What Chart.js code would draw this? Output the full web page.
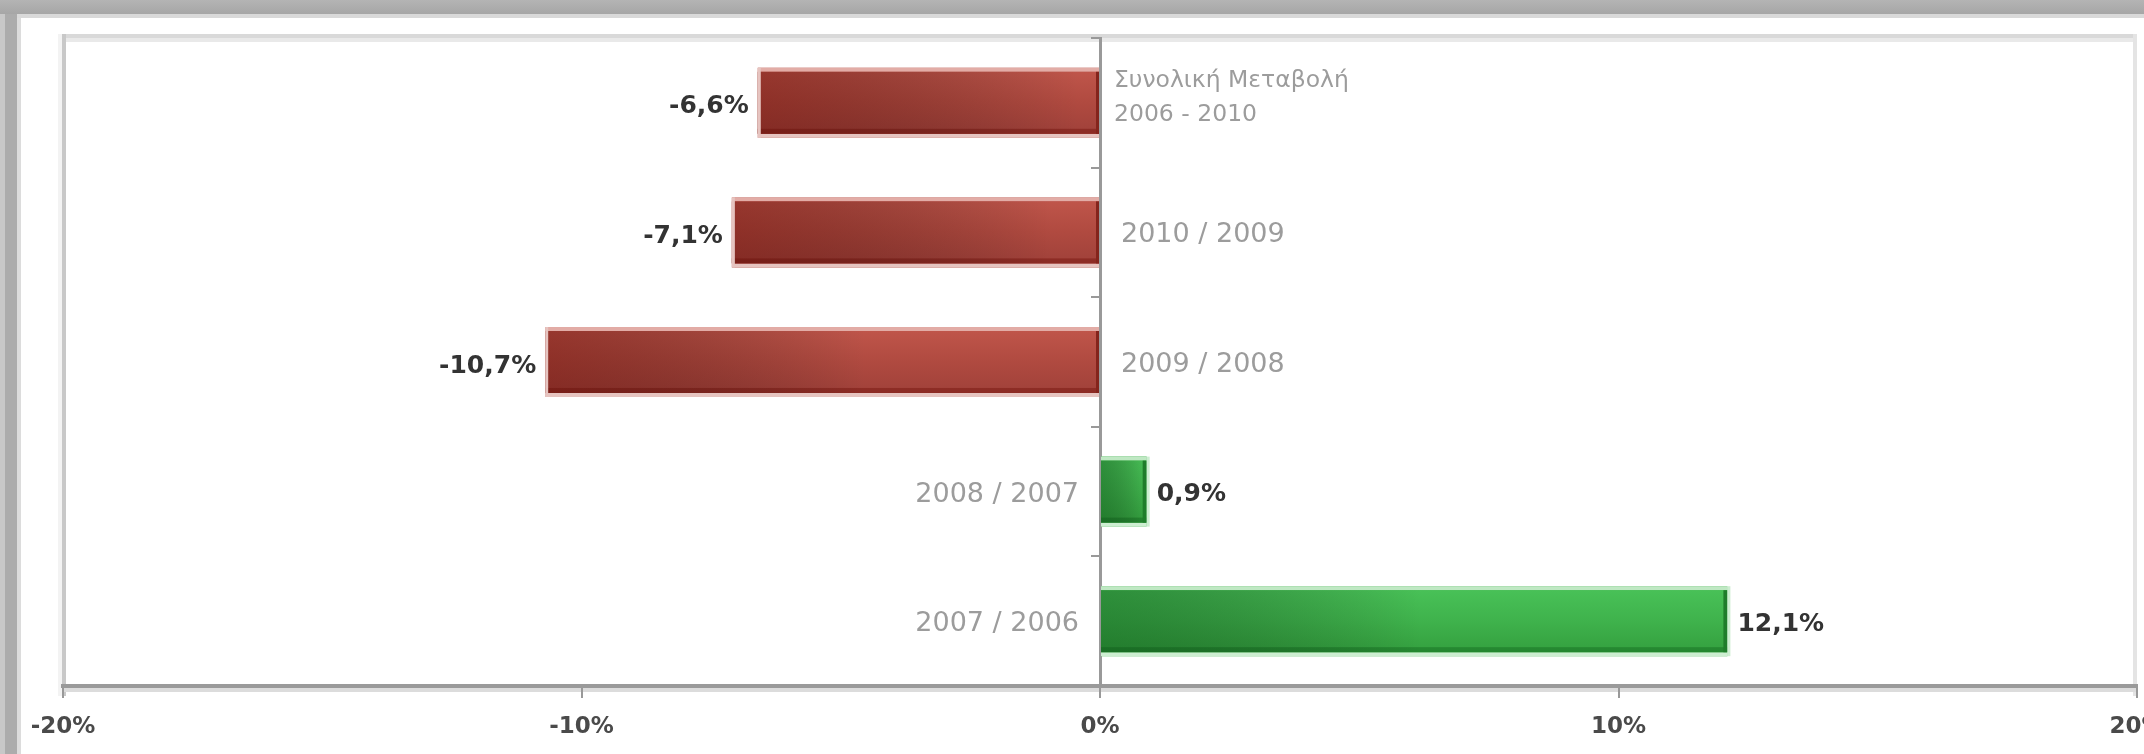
<!DOCTYPE html>
<html><head><meta charset="utf-8">
<script src="https://cdn.jsdelivr.net/npm/chart.js@4.4.1/dist/chart.umd.min.js"></script>
<style>html,body{margin:0;padding:0;background:#fff;overflow:hidden}#wrap{position:relative;width:2144px;height:754px}</style>
</head><body><div id="wrap"><canvas id="c"></canvas></div>
<script>
// ---- data ----
const categories = [['Συνολική Μεταβολή', '2006 - 2010'], '2010 / 2009', '2009 / 2008', '2008 / 2007', '2007 / 2006'];
const changeValues = [-6.6, -7.1, -10.7, 0.9, 12.1];
const axisMin = -20;
const axisMax = 20;
const axisStep = 10;

const FONT = 'DejaVu Sans';
const fmtValue = v => v.toFixed(1).replace('.', ',') + '%';

const barStyles = {
  neg: {hi: '#e2aca6', top: '#bf554a', mid: '#b04a40', bot: '#a0413a', dark: '#84241c', lo: '#e6c4c0', shade: 'rgba(95,12,6,0.42)', solid: '#b04a40'},
  pos: {hi: '#bfe8c3', top: '#48c157', mid: '#3fb24c', bot: '#34a03f', dark: '#1f7d2b', lo: '#cdeed1', shade: 'rgba(10,75,20,0.42)', solid: '#3fb24c'}
};

const framePlugin = {
  id: 'frame',
  beforeDraw(chart) {
    const ctx = chart.ctx, ca = chart.chartArea, W = chart.width, H = chart.height;
    ctx.save();
    ctx.fillStyle = '#c8c8c8'; ctx.fillRect(0, 0, 5, H);
    ctx.fillStyle = '#acacac'; ctx.fillRect(5, 0, 12, H);
    ctx.fillStyle = '#dcdcdc'; ctx.fillRect(17, 13, 4, H);
    const tg = ctx.createLinearGradient(0, 0, 0, 14);
    tg.addColorStop(0, '#b4b4b4'); tg.addColorStop(1, '#a6a6a6');
    ctx.fillStyle = tg; ctx.fillRect(0, 0, W, 14);
    ctx.fillStyle = '#d9d9d9'; ctx.fillRect(17, 14, W, 4);
    const w = ca.right - ca.left;
    ctx.fillStyle = '#d9d9d9'; ctx.fillRect(ca.left - 1, ca.top - 4, w + 1, 4);
    ctx.fillStyle = '#e9e9e9'; ctx.fillRect(ca.left - 1, ca.top, w + 1, 4);
    ctx.fillStyle = '#f3f3f3'; ctx.fillRect(ca.left - 5, ca.top - 4, 4, ca.bottom - ca.top + 14);
    ctx.fillStyle = '#c8c8c8'; ctx.fillRect(ca.left - 1, ca.top - 4, 4, ca.bottom - ca.top + 14);
    ctx.fillStyle = '#e4e4e4'; ctx.fillRect(ca.right - 4, ca.top - 4, 4, ca.bottom - ca.top + 14);
    ctx.fillStyle = '#dcdcdc'; ctx.fillRect(ca.left - 1, ca.bottom + 2, w + 1, 4);
    ctx.restore();
  }
};

const barPlugin = {
  id: 'barDeco',
  afterDatasetsDraw(chart) {
    const ctx = chart.ctx;
    const meta = chart.getDatasetMeta(0);
    const zeroX = chart.scales.x.getPixelForValue(0);
    ctx.save();
    meta.data.forEach((el, i) => {
      const v = changeValues[i];
      const s = v < 0 ? barStyles.neg : barStyles.pos;
      const p = el.getProps(['x', 'y', 'base', 'height'], true);
      const L = Math.min(p.x, p.base), R = Math.max(p.x, p.base);
      const T = p.y - p.height / 2, B = p.y + p.height / 2;
      const Wd = R - L, Hd = B - T;
      ctx.fillStyle = s.hi; ctx.fillRect(L, T, Wd, 4);
      ctx.fillStyle = s.lo; ctx.fillRect(L, B - 4, Wd, 4);
      const g = ctx.createLinearGradient(0, T + 4, 0, B - 4);
      g.addColorStop(0, s.top); g.addColorStop(0.5, s.mid); g.addColorStop(1, s.bot);
      ctx.fillStyle = g; ctx.fillRect(L, T + 4, Wd, Hd - 8);
      ctx.fillStyle = s.dark; ctx.globalAlpha = 0.7; ctx.fillRect(L, B - 9, Wd, 5); ctx.globalAlpha = 1;
      const sw = Math.min(Wd, 320);
      const sg = ctx.createLinearGradient(L, 0, L + sw, 0);
      sg.addColorStop(0, s.shade); sg.addColorStop(1, 'rgba(0,0,0,0)');
      ctx.fillStyle = sg; ctx.fillRect(L, T + 4, sw, Hd - 8);
      if (v < 0) {
        ctx.fillStyle = s.lo; ctx.fillRect(L, T, 3, Hd);
        ctx.fillStyle = s.dark; ctx.fillRect(R - 3, T + 4, 3, Hd - 8);
      } else {
        ctx.fillStyle = s.dark; ctx.fillRect(R - 4, T + 4, 4, Hd - 8);
        ctx.fillStyle = s.lo; ctx.fillRect(R, T, 3, Hd);
      }
      // value label
      ctx.font = 'bold 25px "' + FONT + '"';
      ctx.fillStyle = '#333';
      ctx.textBaseline = 'middle';
      if (v < 0) { ctx.textAlign = 'right'; ctx.fillText(fmtValue(v), L - 9, p.y + 4); }
      else { ctx.textAlign = 'left'; ctx.fillText(fmtValue(v), R + 10, p.y + 3); }
      // category label
      const cat = categories[i];
      ctx.fillStyle = '#9c9c9c';
      ctx.textAlign = v < 0 ? 'left' : 'right';
      if (Array.isArray(cat)) {
        ctx.font = '23.5px "' + FONT + '"';
        const cx = v < 0 ? zeroX + 14 : zeroX - 14;
        const lh = 34;
        cat.forEach((line, k) => {
          ctx.fillText(line, cx, p.y - 5 + (k - (cat.length - 1) / 2) * lh);
        });
      } else {
        ctx.font = '27px "' + FONT + '"';
        const cx = v < 0 ? zeroX + 21 : zeroX - 21;
        ctx.fillText(cat, cx, p.y + 3);
      }
    });
    ctx.restore();
  }
};

new Chart(document.getElementById('c'), {
  type: 'bar',
  data: {
    labels: categories,
    datasets: [{
      data: changeValues,
      backgroundColor: changeValues.map(v => v < 0 ? barStyles.neg.solid : barStyles.pos.solid),
      borderWidth: 0,
      categoryPercentage: 0.54,
      barPercentage: 1
    }]
  },
  options: {
    indexAxis: 'y',
    responsive: true,
    maintainAspectRatio: false,
    animation: false,
    events: [],
    layout: {padding: {top: 38, left: 63, right: 7, bottom: 0}},
    plugins: {legend: {display: false}, tooltip: {enabled: false}},
    scales: {
      x: {
        type: 'linear', position: 'bottom', min: axisMin, max: axisMax,
        ticks: {stepSize: axisStep, callback: v => v + '%', color: '#4a4a4a', font: {family: FONT, size: 23, weight: 'bold'}, padding: 15, maxRotation: 0, autoSkip: false},
        grid: {drawOnChartArea: false, drawTicks: true, tickLength: 12, color: '#999', lineWidth: 2},
        border: {display: true, color: '#9a9a9a', width: 4},
        afterFit(s) { s.height = 68; s.paddingLeft = 0; s.paddingRight = 0; }
      },
      y: {
        type: 'category', position: {x: 0}, offset: true,
        ticks: {display: false},
        grid: {drawOnChartArea: false, drawTicks: true, tickLength: 8, offset: true, color: '#999', lineWidth: 2},
        border: {display: true, color: '#999', width: 3}
      }
    }
  },
  plugins: [framePlugin, barPlugin]
});
</script>
</body></html>
